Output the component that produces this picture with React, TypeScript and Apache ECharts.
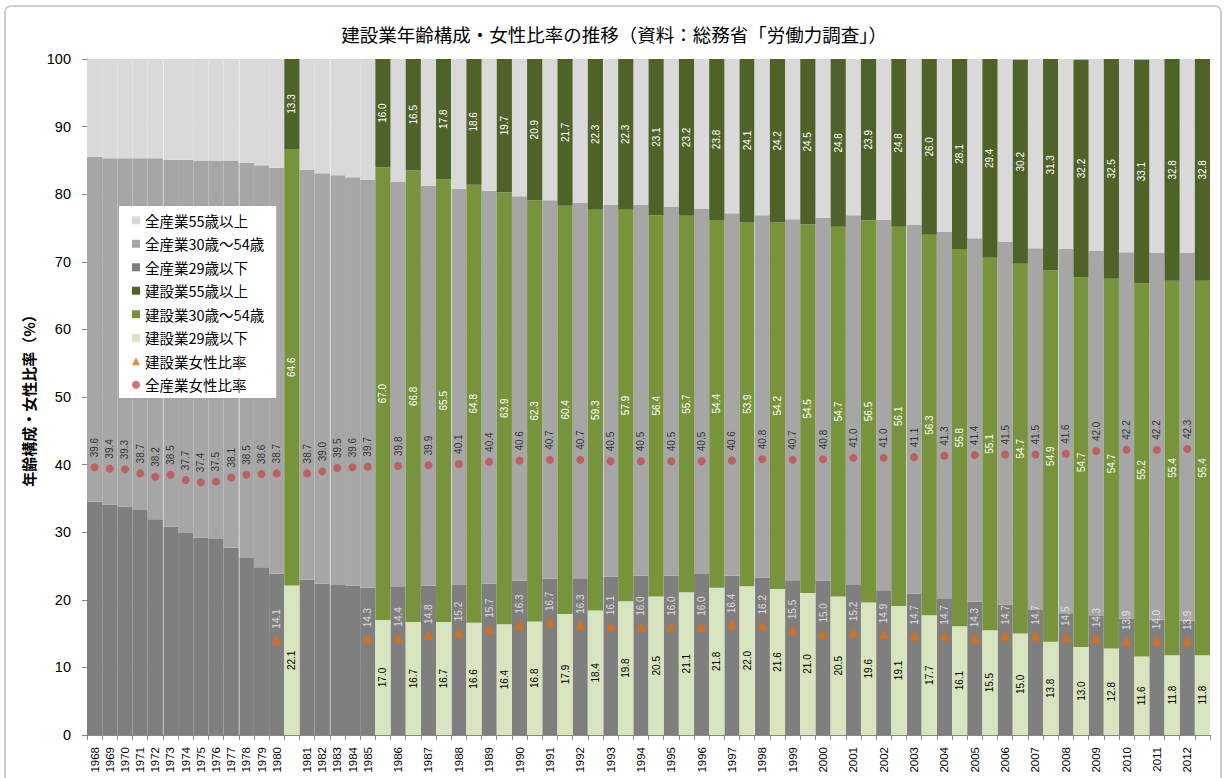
import React, { useEffect, useRef } from 'react';
import * as echarts from 'echarts';

// ---- data ----
const allYears = [
  1968, 1969, 1970, 1971, 1972, 1973, 1974, 1975, 1976, 1977, 1978, 1979, 1980,
  1981, 1982, 1983, 1984, 1985, 1986, 1987, 1988, 1989, 1990, 1991, 1992, 1993,
  1994, 1995, 1996, 1997, 1998, 1999, 2000, 2001, 2002, 2003, 2004, 2005, 2006,
  2007, 2008, 2009, 2010, 2011, 2012,
];
const allUnder29 = [
  34.5, 34.1, 33.8, 33.3, 31.9, 30.8, 29.9, 29.2, 29.0, 27.7, 26.2, 24.8, 23.9,
  23.0, 22.4, 22.2, 22.1, 21.8, 21.9, 22.1, 22.2, 22.4, 22.8, 23.1, 23.2, 23.4,
  23.6, 23.6, 23.8, 23.6, 23.3, 22.9, 22.8, 22.3, 21.4, 20.9, 20.1, 19.7, 19.3,
  18.5, 18.0, 17.6, 17.2, 17.1, 16.9,
];
const all30to54 = [
  51.0, 51.2, 51.5, 52.0, 53.4, 54.3, 55.2, 55.8, 56.0, 57.3, 58.4, 59.5, 60.0,
  60.6, 60.7, 60.6, 60.4, 60.3, 59.9, 59.2, 58.6, 58.1, 56.9, 56.0, 55.5, 55.0,
  54.8, 54.5, 54.1, 53.6, 53.6, 53.4, 53.7, 54.6, 54.8, 54.6, 54.3, 53.8, 53.7,
  53.5, 53.9, 54.0, 54.2, 54.2, 54.4,
];
const all55plus = [
  14.5, 14.7, 14.7, 14.7, 14.7, 14.9, 14.9, 15.0, 15.0, 15.0, 15.4, 15.7, 16.1,
  16.4, 16.9, 17.2, 17.5, 17.9, 18.2, 18.7, 19.2, 19.5, 20.3, 20.9, 21.3, 21.6,
  21.6, 21.9, 22.1, 22.8, 23.1, 23.7, 23.5, 23.1, 23.8, 24.5, 25.6, 26.5, 27.0,
  28.0, 28.1, 28.4, 28.6, 28.7, 28.7,
];
const allFemale = [
  39.6, 39.4, 39.3, 38.7, 38.2, 38.5, 37.7, 37.4, 37.5, 38.1, 38.5, 38.6, 38.7,
  38.7, 39.0, 39.5, 39.6, 39.7, 39.8, 39.9, 40.1, 40.4, 40.6, 40.7, 40.7, 40.5,
  40.5, 40.5, 40.5, 40.6, 40.8, 40.7, 40.8, 41.0, 41.0, 41.1, 41.3, 41.4, 41.5,
  41.5, 41.6, 42.0, 42.2, 42.2, 42.3,
];

const conYears = [
  1980, 1985, 1986, 1987, 1988, 1989, 1990, 1991, 1992, 1993, 1994, 1995, 1996,
  1997, 1998, 1999, 2000, 2001, 2002, 2003, 2004, 2005, 2006, 2007, 2008, 2009,
  2010, 2011, 2012,
];
const conUnder29 = [
  22.1, 17.0, 16.7, 16.7, 16.6, 16.4, 16.8, 17.9, 18.4, 19.8, 20.5, 21.1, 21.8,
  22.0, 21.6, 21.0, 20.5, 19.6, 19.1, 17.7, 16.1, 15.5, 15.0, 13.8, 13.0, 12.8,
  11.6, 11.8, 11.8,
];
const con30to54 = [
  64.6, 67.0, 66.8, 65.5, 64.8, 63.9, 62.3, 60.4, 59.3, 57.9, 56.4, 55.7, 54.4,
  53.9, 54.2, 54.5, 54.7, 56.5, 56.1, 56.3, 55.8, 55.1, 54.7, 54.9, 54.7, 54.7,
  55.2, 55.4, 55.4,
];
const con55plus = [
  13.3, 16.0, 16.5, 17.8, 18.6, 19.7, 20.9, 21.7, 22.3, 22.3, 23.1, 23.2, 23.8,
  24.1, 24.2, 24.5, 24.8, 23.9, 24.8, 26.0, 28.1, 29.4, 30.2, 31.3, 32.2, 32.5,
  33.1, 32.8, 32.8,
];
const conFemale = [
  14.1, 14.3, 14.4, 14.8, 15.2, 15.7, 16.3, 16.7, 16.3, 16.1, 16.0, 16.0, 16.0,
  16.4, 16.2, 15.5, 15.0, 15.2, 14.9, 14.7, 14.7, 14.3, 14.7, 14.7, 14.5, 14.3,
  13.9, 14.0, 13.9,
];

const yTicks = [0, 10, 20, 30, 40, 50, 60, 70, 80, 90, 100];

const TITLE = '建設業年齢構成・女性比率の推移（資料：総務省「労働力調査」）';
const Y_NAME = '年齢構成・女性比率（%）';

const C = {
  all55: '#d9d9d9',
  all30: '#a6a6a6',
  all29: '#7f7f7f',
  con55: '#4f6228',
  con30: '#77933c',
  con29: '#d7e4bd',
  conF: '#e46c0a',
  allF: '#c0504d',
};

const NUM_FONT = "'Liberation Sans', Arial, sans-serif";
const JP_FONT = "'Noto Sans CJK JP', sans-serif";

export default function App() {
  const ref = useRef<HTMLDivElement>(null);

  useEffect(() => {
    const chart = echarts.init(ref.current!, null, { renderer: 'svg' });

    type Slot = { key: string; label: string; allIdx: number; conIdx: number };
    const slots: Slot[] = [];
    allYears.forEach((y, i) => {
      slots.push({ key: String(y), label: String(y), allIdx: i, conIdx: -1 });
      const ci = conYears.indexOf(y);
      if (ci >= 0) slots.push({ key: y + 'c', label: '', allIdx: -1, conIdx: ci });
    });
    const cats = slots.map((s) => s.key);
    const pickAll = (arr: number[]) => slots.map((s) => (s.allIdx >= 0 ? arr[s.allIdx] : '-'));
    const pickCon = (arr: number[]) => slots.map((s) => (s.conIdx >= 0 ? arr[s.conIdx] : '-'));

    const allFemalePts: [number, number][] = [];
    const conFemalePts: [number, number][] = [];
    slots.forEach((s, i) => {
      if (s.allIdx < 0) return;
      allFemalePts.push([i, allFemale[s.allIdx]]);
      const ci = conYears.indexOf(allYears[s.allIdx]);
      if (ci >= 0) conFemalePts.push([i, conFemale[ci]]);
    });

    // five-year guide lines (before 1973, 1978, ...)
    const guideLines: { xAxis: number }[] = [];
    slots.forEach((s, i) => {
      if (s.allIdx > 0 && (allYears[s.allIdx] - allYears[0]) % 5 === 0) guideLines.push({ xAxis: i });
    });

    const fmt = (p: any) => Number(Array.isArray(p.value) ? p.value[1] : p.value).toFixed(1);

    const barLabel = (color: string) => ({
      show: true,
      position: 'inside',
      rotate: 90,
      formatter: fmt,
      color,
      fontSize: 10,
      fontFamily: NUM_FONT,
    });

    const bar = (name: string, data: any[], color: string, label?: any) => ({
      name,
      type: 'bar',
      stack: 'total',
      barWidth: '100%',
      barCategoryGap: '0%',
      data,
      itemStyle: { color },
      label: label || { show: false },
      emphasis: { disabled: true },
    });

    const option: any = {
      animation: false,
      backgroundColor: '#ffffff',
      textStyle: { fontFamily: NUM_FONT },
      title: {
        text: TITLE,
        left: 'center',
        top: 20,
        textStyle: { fontFamily: JP_FONT, fontSize: 18.5, fontWeight: 'normal', color: '#000' },
      },
      graphic: [
        {
          type: 'rect',
          silent: true,
          z: -10,
          shape: { x: 5, y: 6, width: 1216, height: 800, r: 6 },
          style: { fill: 'none', stroke: '#bfbfbf', lineWidth: 1.5 },
        },
      ],
      legend: {
        orient: 'vertical',
        left: 119,
        top: 206,
        backgroundColor: '#ffffff',
        padding: [7, 12, 6, 13],
        itemWidth: 8,
        itemHeight: 8,
        itemGap: 9,
        selectedMode: false,
        textStyle: { fontFamily: JP_FONT, fontSize: 14.5, color: '#000', lineHeight: 14 },
        data: [
          { name: '全産業55歳以上', icon: 'rect' },
          { name: '全産業30歳～54歳', icon: 'rect' },
          { name: '全産業29歳以下', icon: 'rect' },
          { name: '建設業55歳以上', icon: 'rect' },
          { name: '建設業30歳～54歳', icon: 'rect' },
          { name: '建設業29歳以下', icon: 'rect' },
          { name: '建設業女性比率', icon: 'triangle' },
          { name: '全産業女性比率', icon: 'circle' },
        ],
      },
      grid: { left: 87, right: 18, top: 59, bottom: 43, containLabel: false },
      xAxis: [
        {
          type: 'category',
          data: cats,
          axisLine: { show: true, lineStyle: { color: '#868686', width: 1 } },
          axisTick: { show: true, interval: 0, length: 5, lineStyle: { color: '#868686' } },
          axisLabel: {
            interval: 0,
            rotate: 90,
            margin: 12,
            fontSize: 11.5,
            color: '#000',
            fontFamily: NUM_FONT,
            formatter: (v: string) => (v.endsWith('c') ? '' : v),
          },
          splitLine: { show: false },
        },
        {
          type: 'value',
          min: 0,
          max: slots.length,
          show: false,
        },
      ],
      yAxis: {
        type: 'value',
        min: yTicks[0],
        max: yTicks[yTicks.length - 1],
        interval: yTicks[1] - yTicks[0],
        name: Y_NAME,
        nameLocation: 'middle',
        nameGap: 51,
        nameRotate: 90,
        nameTextStyle: { fontFamily: JP_FONT, fontSize: 15, color: '#000', fontWeight: 'bold' },
        axisLine: { show: true, lineStyle: { color: '#868686', width: 1 } },
        axisTick: { show: true, length: 5, lineStyle: { color: '#868686' } },
        axisLabel: { fontSize: 14.5, color: '#000', margin: 16, fontFamily: NUM_FONT },
        splitLine: { show: true, lineStyle: { color: '#d9d9d9' } },
      },
      series: [
        bar('全産業29歳以下', pickAll(allUnder29), C.all29),
        bar('全産業30歳～54歳', pickAll(all30to54), C.all30),
        bar('全産業55歳以上', pickAll(all55plus), C.all55),
        bar('建設業29歳以下', pickCon(conUnder29), C.con29, barLabel('#000')),
        bar('建設業30歳～54歳', pickCon(con30to54), C.con30, barLabel('#ffffff')),
        bar('建設業55歳以上', pickCon(con55plus), C.con55, barLabel('#ffffff')),
        {
          name: 'guides',
          type: 'line',
          xAxisIndex: 1,
          data: [],
          silent: true,
          markLine: {
            silent: true,
            symbol: 'none',
            label: { show: false },
            lineStyle: { color: 'rgba(255,255,255,0.45)', type: 'solid', width: 1 },
            data: guideLines,
          },
        },
        {
          name: '建設業女性比率',
          type: 'scatter',
          data: conFemalePts,
          symbol: 'triangle',
          symbolSize: 10,
          itemStyle: { color: C.conF },
          z: 5,
          label: {
            show: true,
            position: 'top',
            distance: 6,
            rotate: 90,
            align: 'left',
            verticalAlign: 'middle',
            formatter: fmt,
            color: '#f2f2f2',
            fontSize: 10,
            fontFamily: NUM_FONT,
          },
          emphasis: { disabled: true },
        },
        {
          name: '全産業女性比率',
          type: 'scatter',
          data: allFemalePts,
          symbol: 'circle',
          symbolSize: 8,
          itemStyle: { color: C.allF },
          z: 5,
          label: {
            show: true,
            position: 'top',
            distance: 6,
            rotate: 90,
            align: 'left',
            verticalAlign: 'middle',
            formatter: fmt,
            color: '#111',
            fontSize: 10,
            fontFamily: NUM_FONT,
          },
          emphasis: { disabled: true },
        },
      ],
    };

    chart.setOption(option);
    return () => chart.dispose();
  }, []);

  return (
    <div
      ref={ref}
      style={{ position: 'absolute', left: 0, top: 0, width: 1228, height: 778 }}
    />
  );
}
